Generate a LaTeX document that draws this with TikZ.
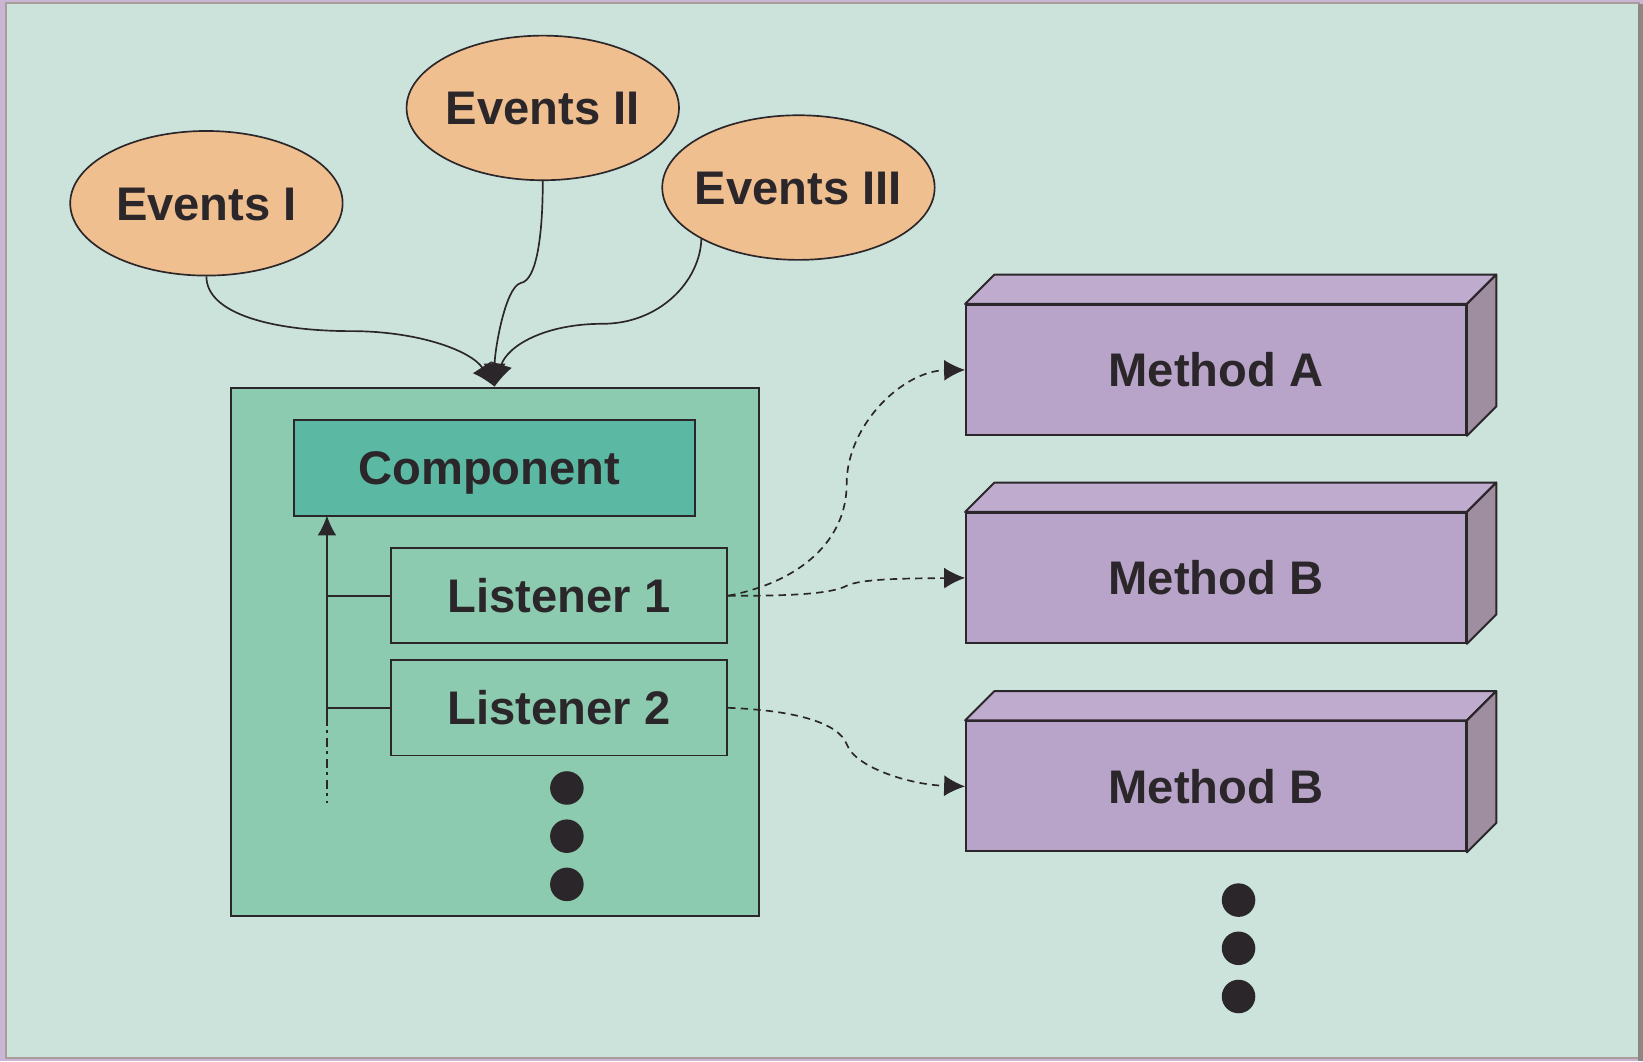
\documentclass[tikz,border=0pt]{standalone}
\usepackage{fontspec}
\setmainfont{Liberation Sans}
\usetikzlibrary{shapes.geometric,arrows.meta,calc}
\definecolor{bgc}{HTML}{CCE3DB}
\definecolor{framec}{HTML}{C8B6D4}
\definecolor{frameline}{HTML}{A89D9A}
\definecolor{ink}{HTML}{2B262A}
\definecolor{evc}{HTML}{F0BF8F}
\definecolor{outerc}{HTML}{8CCBB0}
\definecolor{compc}{HTML}{5BB8A2}
\definecolor{frontc}{HTML}{B8A4C8}
\definecolor{topc}{HTML}{BEABCE}
\definecolor{sidec}{HTML}{9F8E9F}
\tikzset{
  lbl/.style={font=\fontsize{45}{54}\selectfont\bfseries, text=ink, text height=32.2pt, text depth=0pt, inner sep=0pt},
  evnode/.style={lbl, ellipse, draw=ink, line width=1.6pt, fill=evc, minimum width=260pt, minimum height=138pt, inner xsep=-15pt},
  boxnode/.style={lbl, rectangle, draw=ink, line width=1.9pt},
  methnode/.style={boxnode, fill=frontc, minimum width=477pt, minimum height=124pt},
  dotnode/.style={circle, fill=ink, minimum size=32pt, inner sep=0pt},
  evarrow/.style={draw=ink, line width=1.6pt, -{Latex[length=22pt,width=21pt]}},
  dasharrow/.style={draw=ink, line width=1.6pt, dash pattern=on 7pt off 5pt, -{Latex[length=20pt,width=20pt]}},
  faceline/.style={draw=ink, line width=1.9pt, line join=round}
}
\begin{document}
\begin{tikzpicture}[x=1pt,y=-1pt]
\useasboundingbox (0,0) rectangle (1568,1013);
% frame and background
\fill[framec] (0,0) rectangle (1568,1013);
\fill[bgc] (6,3) rectangle (1564,1010);
\draw[frameline, line width=2pt] (6,3) rectangle (1564,1010);
\fill[frameline!85!black] (1563,4) rectangle (1568,1013);

% events
\node[evnode] (e1) at (197,194) {Events I};
\node[evnode] (e2) at (518,103) {Events II};
\node[evnode] (e3) at (762,179) {Events III};

% outer box and component
\node[boxnode, fill=outerc, minimum width=504pt, minimum height=504pt] (outer) at (472,622) {};
\node[boxnode, fill=compc, minimum width=382pt, minimum height=91pt] (comp) at (472,446.5) {\hspace*{-10pt}Component};
\node[boxnode, fill=outerc, minimum width=321pt, minimum height=91pt] (l1) at (533.5,568.5) {Listener 1};
\node[boxnode, fill=outerc, minimum width=321pt, minimum height=91pt] (l2) at (533.5,675.5) {Listener 2};

\node[dotnode] (d1) at (541,752) {};
\node[dotnode] (d2) at (541,798) {};
\node[dotnode] (d3) at (541,844) {};

% vertical listener line
\coordinate (vt) at (312,492);
\coordinate (vbot) at (312,766);
\coordinate (vmid) at (312,684);
\draw[ink, line width=1.6pt] (l1.west) -- (l1.west -| vt);
\draw[ink, line width=1.6pt] (l2.west) -- (l2.west -| vt);
\draw[ink, line width=1.6pt, -{Latex[length=19pt,width=18pt]}] (vmid) -- (vt);
\draw[ink, line width=1.6pt, dash pattern=on 9pt off 4pt on 3pt off 4pt] (vmid) -- (vbot);

% methods
\node[methnode] (mA) at (1160.5,353) {Method A};
\node[methnode] (mB) at (1160.5,551.5) {Method B};
\node[methnode] (mC) at (1160.5,750.5) {Method B};
\foreach \m in {mA,mB,mC}{
  \filldraw[faceline, fill=topc] (\m.north west) -- ++(28,-28) -- ($(\m.north east)+(28,-28)$) -- (\m.north east) -- cycle;
  \filldraw[faceline, fill=sidec] (\m.north east) -- ++(28,-28) -- ($(\m.south east)+(28,-28)$) -- (\m.south east) -- cycle;
}

\node[dotnode] (r1) at (1182,859) {};
\node[dotnode] (r2) at (1182,905) {};
\node[dotnode] (r3) at (1182,951) {};

% event connectors
\draw[evarrow] (e1.south) .. controls (197,300) and (262,316) .. (335,316) .. controls (400,316) and (450,335) .. (outer.north);
\draw[evarrow] (e2.south) .. controls (518,225) and (512,268) .. (497,270) .. controls (482,274) and (472,335) .. (outer.north);
\draw[evarrow] (e3.208) .. controls (668,268) and (630,309) .. (575,309) .. controls (520,309) and (484,330) .. (outer.north);

% dashed connectors
\draw[dasharrow] (l1.east) .. controls (765,555) and (808,515) .. (808,462) .. controls (808,405) and (862,354) .. (mA.west);
\draw[dasharrow] (l1.east) .. controls (760,569) and (795,566) .. (808,559) .. controls (822,552) and (870,552) .. (mB.west);
\draw[dasharrow] (l2.east) .. controls (760,678) and (800,690) .. (808,710) .. controls (816,733) and (870,749) .. (mC.west);
\end{tikzpicture}
\end{document}
